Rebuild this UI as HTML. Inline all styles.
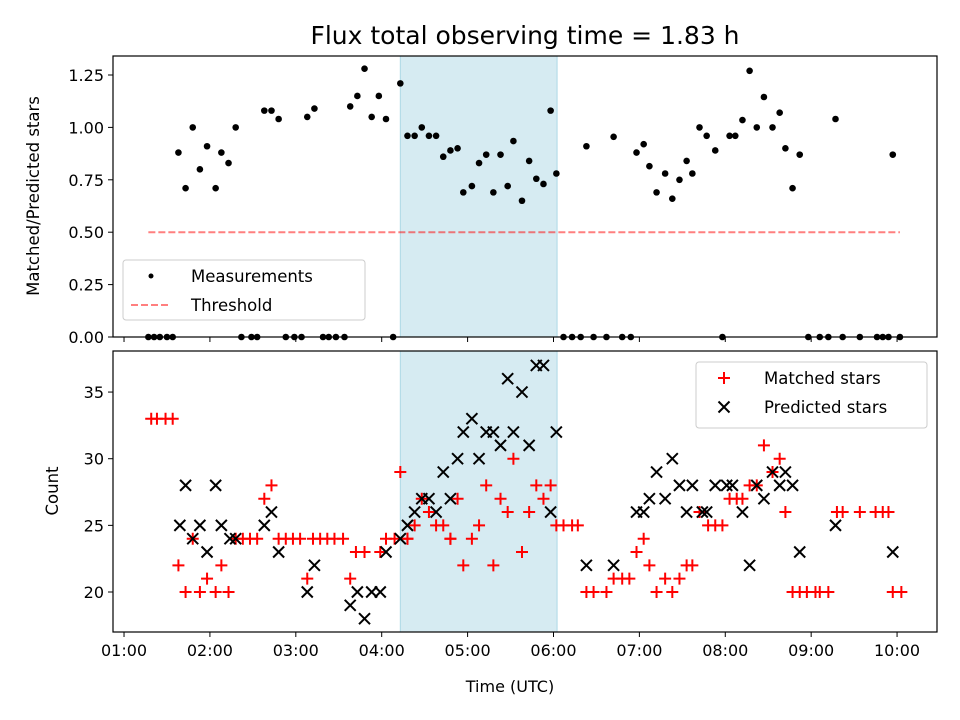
<!DOCTYPE html>
<html><head><meta charset="utf-8"><style>
body{margin:0;background:#fff}
svg{display:block;font-family:"DejaVu Sans","Liberation Sans",sans-serif}
</style></head><body>
<svg id="chart" width="960" height="720" viewBox="0 0 960 720">
<rect width="960" height="720" fill="#fff"/>
<text x="525" y="44" font-size="25" text-anchor="middle">Flux total observing time = 1.83 h</text>
<g id="topPanel"></g>
<g id="botPanel"></g>
<text x="510" y="692" font-size="16" text-anchor="middle">Time (UTC)</text>
<text transform="translate(39,196) rotate(-90)" font-size="16.5" text-anchor="middle">Matched/Predicted stars</text>
<text transform="translate(58,491) rotate(-90)" font-size="16.5" text-anchor="middle">Count</text>
</svg>
<script>
// times in minutes after 00:00 UTC
const ratioTimes=[77,81,85,90,94,142,149,153,173,179,184,199,203,208,214,248,
98,103,108,113,118,124,128,133,138,158,163,168,188,193,218,223,228,233,238,243,253,258,263,268,273,278,283,288,293,297,303,308,313,318,323,328,332,338,343,348,353,358,362,
367,373,379,388,397,408,414,478,538,546,552,562,574,586,590,594,602,
383,402,418,423,427,432,438,443,448,453,457,462,467,473,483,487,492,497,502,507,513,518,522,527,532,557,597];
const ratioValues=[0,0,0,0,0,0,0,0,0,0,0,0,0,0,0,0,
0.88,0.71,1.00,0.80,0.91,0.71,0.88,0.83,1.00,1.08,1.08,1.04,1.05,1.09,1.10,1.15,1.28,1.05,1.15,1.04,1.21,0.96,0.96,1.00,0.96,0.96,0.86,0.89,0.90,0.69,0.72,0.83,0.87,0.69,0.87,0.72,0.935,0.65,0.84,0.755,0.73,1.08,0.78,
0,0,0,0,0,0,0,0,0,0,0,0,0,0,0,0,0,
0.91,0.955,0.88,0.92,0.815,0.69,0.78,0.66,0.75,0.84,0.78,1.00,0.96,0.89,0.96,0.96,1.035,1.27,1.00,1.145,1.00,1.07,0.90,0.71,0.87,1.04,0.87];
const thresholdTimes=[77,602];
const thresholdValue=0.5;
const matchedTimes=[79,83,89,94,98,103,108,113,118,124,128,133,138,143,148,153,158,163,168,173,178,183,188,192,197,202,207,213,218,222,228,239,243,249,253,258,258,263,268,273,278,283,288,288,293,297,303,308,313,318,323,328,332,338,343,348,353,358,362,367,373,377,383,388,397,402,408,413,418,423,427,432,438,443,448,453,457,462,468,473,478,483,488,492,497,502,507,513,518,522,527,532,537,543,546,552,558,562,574,585,590,594,597,603];
const matchedValues=[33,33,33,33,22,20,24,20,21,20,22,20,24,24,24,24,27,28,24,24,24,24,21,24,24,24,24,24,21,23,23,23,24,24,29,24,24,25,27,26,25,25,24,24,27,22,24,25,28,22,27,26,30,23,26,28,27,28,25,25,25,25,20,20,20,21,21,21,23,24,22,20,21,20,21,22,22,26,25,25,25,27,27,27,28,28,31,29,30,26,20,20,20,20,20,20,26,26,26,26,26,26,20,20];
const predictedTimes=[99,103,108,113,118,124,128,134,138,158,163,168,188,193,218,223,228,233,239,243,253,258,263,268,273,278,283,288,293,297,303,308,313,318,323,328,332,338,343,348,353,358,362,383,402,418,423,427,432,438,443,448,453,457,464,467,473,481,485,492,497,502,507,513,518,522,527,532,557,597];
const predictedValues=[25,28,24,25,23,28,25,24,24,25,26,23,20,22,19,20,18,20,20,23,24,25,26,27,27,26,29,27,30,32,33,30,32,32,31,36,32,35,31,37,37,26,32,22,22,26,26,27,29,27,30,28,26,28,26,26,28,28,28,26,22,28,27,29,28,29,28,23,25,23];
const xTickVals=[60,120,180,240,300,360,420,480,540,600];
const xTickLabels=["01:00","02:00","03:00","04:00","05:00","06:00","07:00","08:00","09:00","10:00"];
const topTickVals=[0,0.25,0.5,0.75,1.0,1.25];
const topTickLabels=["0.00","0.25","0.50","0.75","1.00","1.25"];
const botTickVals=[20,25,30,35];
const botTickLabels=["20","25","30","35"];
const shadeRange=[253,362.5];

const NS="http://www.w3.org/2000/svg";
const X0=113,X1=937,XMIN=52.3,XMAX=627.9;
const xs=m=>X0+(m-XMIN)/(XMAX-XMIN)*(X1-X0);
const TY0=337,TY1=56,TMIN=0,TMAX=1.3406;
const yt=v=>TY0-(v-TMIN)/(TMAX-TMIN)*(TY0-TY1);
const BY0=632,BY1=351,BMIN=17.0,BMAX=38.08;
const ybt=v=>BY0-(v-BMIN)/(BMAX-BMIN)*(BY0-BY1);
function mk(p,tag,a){const e=document.createElementNS(NS,tag);for(const k in a)e.setAttribute(k,a[k]);p.appendChild(e);return e;}
const topG=document.getElementById('topPanel'),botG=document.getElementById('botPanel');

function panel(g,ya,yb_,yfn,tv,tl,showX,name){
  let r=mk(g,'rect',{x:xs(shadeRange[0]),y:yb_,width:xs(shadeRange[1])-xs(shadeRange[0]),height:ya-yb_,fill:'#add8e6','fill-opacity':0.5,stroke:'#add8e6','stroke-width':1});
  
  
  tv.forEach((v,i)=>{
    mk(g,'line',{x1:X0-5,x2:X0,y1:yfn(v),y2:yfn(v),stroke:'#000','stroke-width':1});
    let t=mk(g,'text',{x:X0-9,y:yfn(v)+6,'font-size':16,'text-anchor':'end'});t.textContent=tl[i];
    
    
  });
  xTickVals.forEach((v,i)=>{
    mk(g,'line',{x1:xs(v),x2:xs(v),y1:ya,y2:ya+5,stroke:'#000','stroke-width':1});
    if(showX){let t=mk(g,'text',{x:xs(v),y:ya+24,'font-size':16,'text-anchor':'middle'});t.textContent=xTickLabels[i];
      
      }
  });
}
panel(topG,TY0,TY1,yt,topTickVals,topTickLabels,false,'top');
panel(botG,BY0,BY1,ybt,botTickVals,botTickLabels,true,'bottom');

let th=mk(topG,'line',{x1:xs(thresholdTimes[0]),x2:xs(thresholdTimes[1]),y1:yt(thresholdValue),y2:yt(thresholdValue),stroke:'#ff0000','stroke-opacity':0.5,'stroke-width':2,'stroke-dasharray':'7,3'});


ratioTimes.forEach((t,i)=>{
  let c=mk(topG,'circle',{cx:xs(t),cy:yt(ratioValues[i]),r:3.3,fill:'#000'});
  
  
});
matchedTimes.forEach((t,i)=>{
  const cx=xs(t),cy=ybt(matchedValues[i]);
  let p=mk(botG,'path',{d:`M${cx-6} ${cy}H${cx+6}M${cx} ${cy-6}V${cy+6}`,stroke:'#ff0000','stroke-width':2});
  
  
});
predictedTimes.forEach((t,i)=>{
  const cx=xs(t),cy=ybt(predictedValues[i]);
  let p=mk(botG,'path',{d:`M${cx-5.5} ${cy-5.5}L${cx+5.5} ${cy+5.5}M${cx-5.5} ${cy+5.5}L${cx+5.5} ${cy-5.5}`,stroke:'#000','stroke-width':2});
  
  
});
mk(topG,'rect',{x:X0,y:TY1,width:X1-X0,height:TY0-TY1,fill:'none',stroke:'#000','stroke-width':1.2});
mk(botG,'rect',{x:X0,y:BY1,width:X1-X0,height:BY0-BY1,fill:'none',stroke:'#000','stroke-width':1.2});

function legend(g,bx,by,w,h,items,name){
  let r=mk(g,'rect',{x:bx,y:by,width:w,height:h,rx:3,fill:'#fff','fill-opacity':0.8,stroke:'#ccc','stroke-width':1});
  
  
  items.forEach((it,i)=>{
    const cy=by+16+i*29;
    it.draw(bx+28,cy);
    let t=mk(g,'text',{x:bx+68,y:cy+6,'font-size':16.5});t.textContent=it.label;
    
    
  });
}
legend(topG,123,260,242,60,[
  {label:'Measurements',draw:(cx,cy)=>mk(topG,'circle',{cx:cx,cy:cy,r:2.5,fill:'#000'})},
  {label:'Threshold',draw:(cx,cy)=>mk(topG,'line',{x1:cx-20,x2:cx+20,y1:cy,y2:cy,stroke:'#ff0000','stroke-opacity':0.5,'stroke-width':2,'stroke-dasharray':'7,3'})}
],'top-legend');
legend(botG,696,362,231,66,[
  {label:'Matched stars',draw:(cx,cy)=>mk(botG,'path',{d:`M${cx-6} ${cy}H${cx+6}M${cx} ${cy-6}V${cy+6}`,stroke:'#ff0000','stroke-width':2})},
  {label:'Predicted stars',draw:(cx,cy)=>mk(botG,'path',{d:`M${cx-5.5} ${cy-5.5}L${cx+5.5} ${cy+5.5}M${cx-5.5} ${cy+5.5}L${cx+5.5} ${cy-5.5}`,stroke:'#000','stroke-width':2})}
],'bottom-legend');
</script>
</body></html>
